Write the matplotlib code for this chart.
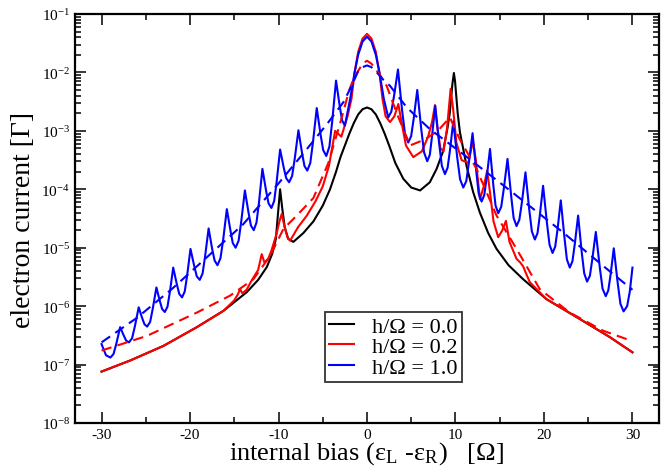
import numpy as np
import matplotlib
matplotlib.use("Agg")
import matplotlib.pyplot as plt
from matplotlib.ticker import MultipleLocator, FixedLocator, LogFormatterMathtext, NullFormatter

plt.rcParams['font.family'] = ['Liberation Serif', 'DejaVu Serif']
plt.rcParams['mathtext.fontset'] = 'stix'
plt.rcParams['axes.unicode_minus'] = False

# ---- data: x in units of Omega, y as log10(current) ----
black_x = [-30, -26.76, -23.0, -19.23, -16.22, -13.58, -12.3, -11.32, -10.7, -10.3, -10.05, -9.82,
           -9.6, -9.3, -8.9, -8.32, -7.2, -6.06, -5.0, -4.18, -3.5, -3.0, -2.5, -2.0, -1.5, -1.0, -0.5,
           0, 0.5, 1.0, 1.5, 2.0, 2.5, 3.2, 4.1, 5.0, 6.0, 7.1, 7.87, 8.6, 9.1, 9.35, 9.65, 9.82, 9.95,
           10.25, 10.5, 11.25, 12.0, 12.76, 13.7, 14.64, 16.0, 17.65, 20.28, 24.05, 27.44, 30]
black_log = [-7.12, -6.93, -6.68, -6.36, -6.08, -5.76, -5.55, -5.33, -5.10, -4.85, -4.40, -4.00,
             -4.30, -4.65, -4.85, -4.90, -4.75, -4.55, -4.28, -4.00, -3.70, -3.45, -3.25, -3.05, -2.87, -2.72, -2.63,
             -2.60, -2.63, -2.72, -2.87, -3.05, -3.25, -3.55, -3.82, -3.97, -4.02, -3.88, -3.65, -3.35, -2.95, -2.70, -2.20, -2.01, -2.15,
             -2.70, -3.02, -3.60, -4.05, -4.40, -4.75, -5.02, -5.30, -5.54, -5.88, -6.22, -6.53, -6.79]

red_x = [-30, -26.76, -23.0, -19.23, -16.22, -15.0, -14.6, -14.34, -14.1, -13.6, -13.0, -12.3, -11.9,
         -11.6, -11.2, -10.8, -10.2, -9.9, -9.63, -9.35, -9.0, -8.69, -7.8, -6.8, -5.8, -5.0, -4.3, -3.6,
         -2.9, -2.2, -1.75, -1.4, -1.0, -0.5, 0, 0.5, 1.0, 1.4, 1.75, 2.1, 2.6, 3.1, 3.54, 3.9, 4.4, 5.23,
         6.2, 6.9, 7.35, 7.68, 7.95, 8.3, 8.65, 9.05, 9.45, 9.75, 10.1, 10.69, 11.44, 11.8, 12.0, 12.3,
         12.76, 13.2, 13.58, 13.9, 14.3, 14.83, 15.3, 15.7, 16.1, 16.9, 17.3, 17.65, 18.0, 18.4, 19.9,
         20.28, 24.05, 27.44, 30]
red_log = [-7.12, -6.93, -6.68, -6.36, -6.08, -5.90, -5.80, -5.71, -5.78, -5.72, -5.55, -5.38, -5.11,
           -5.25, -5.20, -5.05, -4.75, -4.55, -4.42, -4.62, -4.82, -4.88, -4.65, -4.45, -4.20, -3.95, -3.60, -3.00,
           -3.10, -2.75, -2.45, -2.00, -1.65, -1.42, -1.34, -1.42, -1.65, -2.00, -2.45, -2.75, -2.85, -2.75, -2.54, -2.85, -3.25, -3.45,
           -3.35, -3.10, -2.85, -2.56, -2.95, -3.30, -3.35, -2.95, -2.28, -2.65, -3.20, -3.50, -3.55, -3.30, -3.20, -3.50,
           -4.17, -3.95, -3.68, -4.05, -4.55, -4.82, -4.70, -4.54, -4.90, -5.19, -5.25, -5.32, -5.45, -5.59, -5.82,
           -5.88, -6.22, -6.53, -6.79]

blue_x = [-30.0, -29.5, -29.0, -28.65, -28.34, -27.9, -27.5, -27.22, -26.9, -26.55, -26.24, -25.8, -25.42,
          -25.15, -24.85, -24.51, -24.22, -23.8, -23.42, -23.15, -22.85, -22.55, -22.28, -21.9, -21.5, -21.22,
          -20.9, -20.6, -20.33, -19.95, -19.53, -19.24, -18.9, -18.58, -18.3, -17.9, -17.5, -17.22, -16.9,
          -16.56, -16.26, -15.84, -15.44, -15.17, -14.85, -14.51, -14.22, -13.8, -13.4, -13.12, -12.8, -12.49,
          -12.21, -11.82, -11.41, -11.13, -10.8, -10.49, -10.21, -9.82, -9.41, -9.13, -8.8, -8.46, -8.17,
          -7.75, -7.35, -7.07, -6.75, -6.41, -6.11, -5.68, -5.25, -4.95, -4.6, -4.25, -3.94, -3.5, -3.1, -2.82,
          -2.5, -1.9, -1.4, -1.0, -0.5, 0, 0.5, 1.0, 1.4, 1.9, 2.4,
          2.75, 3.06, 3.5, 3.96, 4.29, 4.66, 4.99, 5.27, 5.68, 6.13, 6.45, 6.81, 7.1, 7.35, 7.71, 8.15, 8.46,
          8.81, 9.11, 9.37, 9.75, 10.2, 10.52, 10.88, 11.22, 11.51, 11.93, 12.34, 12.62, 12.95, 13.25, 13.52,
          13.9, 14.27, 14.53, 14.83, 15.17, 15.46, 15.88, 16.29, 16.57, 16.9, 17.22, 17.51, 17.91, 18.33,
          18.63, 18.97, 19.27, 19.53, 19.9, 20.33, 20.63, 20.97, 21.27, 21.53, 21.9, 22.31, 22.59, 22.92,
          23.22, 23.48, 23.86, 24.26, 24.55, 24.87, 25.19, 25.46, 25.86, 26.31, 26.62, 26.98, 27.27, 27.53,
          27.89, 28.33, 28.64, 29.0, 29.4, 29.7, 30.0]
blue_log = [-6.65, -6.84, -6.88, -6.82, -6.65, -6.36, -6.50, -6.59, -6.62, -6.55, -6.35, -6.02, -6.20,
            -6.31, -6.35, -6.27, -6.05, -5.68, -5.91, -6.05, -6.10, -6.01, -5.76, -5.34, -5.62, -5.79,
            -5.85, -5.75, -5.48, -5.02, -5.31, -5.49, -5.55, -5.44, -5.15, -4.67, -5.02, -5.22, -5.30,
            -5.18, -4.87, -4.34, -4.70, -4.92, -5.00, -4.88, -4.56, -4.02, -4.39, -4.62, -4.70, -4.57,
            -4.23, -3.65, -4.02, -4.24, -4.32, -4.20, -3.87, -3.32, -3.63, -3.81, -3.88, -3.77, -3.48,
            -2.99, -3.37, -3.60, -3.68, -3.55, -3.20, -2.61, -3.06, -3.33, -3.43, -3.27, -2.85, -2.14, -2.56, -2.82,
            -2.91, -2.45, -2.00, -1.70, -1.47, -1.39, -1.47, -1.70, -2.00, -2.45, -2.77,
            -2.67, -2.40, -1.95, -2.64, -3.05, -3.20, -3.09, -2.80, -2.30, -2.97, -3.37, -3.52, -3.41, -3.09, -2.57, -3.21, -3.60,
            -3.74, -3.63, -3.34, -2.84, -3.46, -3.83, -3.97, -3.86, -3.55, -3.04, -3.68, -4.07, -4.21, -4.10, -3.81,
            -3.31, -3.92, -4.28, -4.41, -4.30, -3.99, -3.48, -4.11, -4.49, -4.63, -4.52, -4.22, -3.71, -4.34,
            -4.72, -4.86, -4.75, -4.45, -3.94, -4.57, -4.95, -5.09, -4.98, -4.69, -4.19, -4.82, -5.20, -5.34,
            -5.23, -4.94, -4.45, -5.07, -5.44, -5.58, -5.48, -5.20, -4.73, -5.34, -5.70, -5.83, -5.73, -5.46,
            -5.01, -5.60, -5.96, -6.09, -6.00, -5.75, -5.34]

red_dash_x = [-30, -24.88, -19.23, -15.47, -12.84, -10.95, -9.45, -7.94, -6.06, -4.37, -3.0, -2.0, -1.5,
              -0.5, 0, 0.5, 1.5, 2.22, 3.5, 4.86, 6.5, 8.0, 9.37, 10.5, 12.38, 14.64, 16.9, 19.53, 22.92,
              26.68, 30]
red_dash_log = [-6.76, -6.51, -6.11, -5.82, -5.54, -5.14, -4.68, -4.45, -4.15, -3.55, -2.85, -2.30, -2.10,
                -1.85, -1.80, -1.85, -2.05, -2.23, -2.75, -3.25, -3.15, -3.00, -2.77, -3.15, -3.65, -4.45, -5.02, -5.71, -6.11,
                -6.42, -6.60]

blue_dash_x = [-30, -26, -22, -18, -14, -10, -7, -4.5, -2.67, -1.8, -1.0, -0.5, 0, 0.5, 1.0, 1.8, 2.6,
               4.5, 7.1, 10.88, 16.15, 22.17, 26.68, 30]
blue_dash_log = [-6.62, -6.20, -5.70, -5.15, -4.60, -3.90, -3.35, -2.88, -2.51, -2.25, -1.98, -1.91, -1.88,
                 -1.91, -1.98, -2.12, -2.23, -2.60, -2.97, -3.40, -4.02, -4.74, -5.31, -5.72]

y_decades = [-8, -7, -6, -5, -4, -3, -2, -1]
legend_labels = ['h/Ω = 0.0', 'h/Ω = 0.2', 'h/Ω = 1.0']

fig = plt.figure(figsize=(6.7, 4.77), dpi=100)
ax = fig.add_axes([75/670, 53/477, 584/670, 409/477])

lw = 1.5
l0, = ax.plot(black_x, 10**np.array(black_log), color='black', lw=lw)
l1, = ax.plot(red_x, 10**np.array(red_log), color='#ff0000', lw=lw)
l2, = ax.plot(blue_x, 10**np.array(blue_log), color='#0000ff', lw=lw)
ax.plot(red_dash_x, 10**np.array(red_dash_log), color='#ff0000', lw=lw, dashes=(5, 3))
ax.plot(blue_dash_x, 10**np.array(blue_dash_log), color='#0000ff', lw=lw, dashes=(5, 3))

ax.set_yscale('log')
ax.set_xlim(-33, 33)
ax.set_ylim(1e-8, 1e-1)
ax.xaxis.set_major_locator(MultipleLocator(10))
ax.xaxis.set_minor_locator(MultipleLocator(5))
major_y = [10.0**d for d in y_decades]
minor_y = [m * 10.0**d for d in y_decades[:-1] for m in range(2, 10)]
ax.yaxis.set_major_locator(FixedLocator(major_y))
ax.yaxis.set_minor_locator(FixedLocator(minor_y))
ax.yaxis.set_major_formatter(LogFormatterMathtext())
ax.yaxis.set_minor_formatter(NullFormatter())

ax.tick_params(which='both', direction='in', top=True, right=True, width=1.1, labelsize=11)
ax.tick_params(which='major', length=8)
ax.tick_params(which='minor', length=4)
for s in ax.spines.values():
    s.set_linewidth(1.6)

ax.set_xlabel('internal bias (ε$_\\mathregular{L}$ -ε$_\\mathregular{R}$)   [Ω]', fontsize=19, labelpad=-1)
ax.set_ylabel('electron current [Γ]', fontsize=20)
ax.yaxis.set_label_coords(-0.066, 0.5)

leg = ax.legend([l0, l1, l2], legend_labels, loc='lower left', bbox_to_anchor=(0.428, 0.10),
                fontsize=16, frameon=True, fancybox=False, handlelength=1.1, handletextpad=0.8,
                borderpad=0.2, labelspacing=0.0, borderaxespad=0)
leg.get_frame().set_edgecolor('black')
leg.get_frame().set_linewidth(1.3)

fig.savefig('out.png', dpi=100)
